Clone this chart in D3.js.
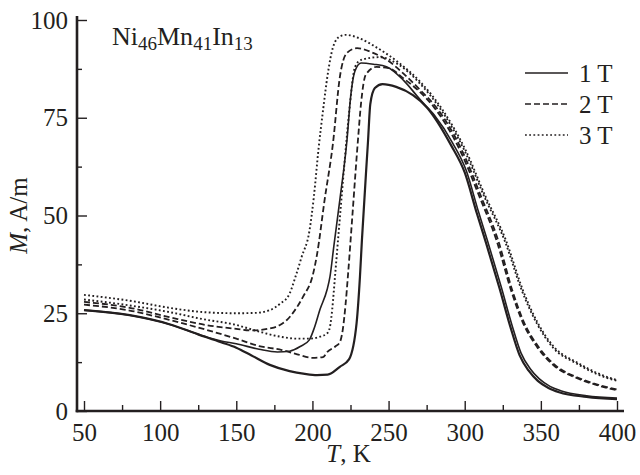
<!DOCTYPE html>
<html>
<head>
<meta charset="utf-8">
<script src="https://cdn.jsdelivr.net/npm/d3@7"></script>
<style>
  html, body { margin: 0; padding: 0; background: #fff; }
  svg { display: block; }
  text { font-family: "Liberation Serif", "Times New Roman", serif; fill: #231f20; }
</style>
</head>
<body>
<svg id="chart" width="640" height="475"></svg>
<script>
// temperature (K) and magnetization (A/m)
const tempTicks = [50, 100, 150, 200, 250, 300, 350, 400];
const tempMinor = [75, 125, 175, 225, 275, 325, 375];
const magTicks = [0, 25, 50, 75, 100];
const magMinor = [12.5, 37.5, 62.5, 87.5];

const fields = ["1 T", "2 T", "3 T"];

// 1 T, branch with the later (higher T) jump
const t1a = [50, 80, 106, 125, 140, 150, 160, 172, 185, 195, 203, 210, 218, 224, 229, 231.2, 232.5, 236.5, 238, 241, 246, 255, 266, 275, 291, 300, 308, 314, 323, 330, 336, 342, 348, 355, 362, 380, 400];
const m1a = [25.8, 24.5, 22.2, 19.6, 17.6, 16.2, 14.2, 11.8, 10.2, 9.5, 9.2, 9.3, 11.3, 13.2, 22.5, 34.3, 43.7, 69, 78.5, 82.6, 83.6, 82.9, 80.8, 77.7, 68, 61, 50.5, 43, 31.2, 21.5, 14.3, 10.3, 7.7, 5.9, 4.8, 3.6, 3.0];
// 1 T, branch with the earlier jump
const t1b = [50, 80, 106, 125, 140, 150, 165, 177, 185, 192, 198, 201, 205, 209.6, 211.5, 214, 218, 222.7, 225, 228, 232, 240, 249, 260, 271, 280, 292, 301, 309, 315, 324, 331, 337, 343, 349, 356, 363, 380, 400];
const m1b = [25.8, 24.5, 22.2, 19.6, 17.9, 17.2, 15.8, 15.1, 15.3, 16.5, 18.2, 21, 26, 31, 34.3, 42, 54, 69.3, 80, 87, 89, 88.7, 88, 84.5, 79.5, 75.7, 68.6, 61.5, 51, 43.5, 31.7, 22, 14.8, 10.8, 8.2, 6.3, 5.2, 3.9, 3.3];

// 2 T
const t2a = [50, 80, 106, 130, 150, 165, 180, 190, 200, 207, 210, 215, 218, 220, 221.7, 223.4, 226, 229.9, 232, 235, 242, 250, 260, 270, 280, 297, 310, 321, 330.4, 338.3, 347.5, 358, 373.7, 387, 400];
const m2a = [27.2, 25.7, 23.3, 20.8, 18.5, 16.6, 15.6, 14.5, 13.6, 13.8, 15.2, 16.5, 17.6, 21, 27, 35, 48.7, 69.3, 79, 86, 88, 87.7, 85, 81.8, 77.6, 66.6, 54.5, 43.5, 30.9, 22.5, 16.4, 11.8, 8.4, 6.6, 5.3];
const t2b = [50, 80, 106, 130, 150, 160, 173, 178.7, 183.3, 188, 193.8, 200.4, 203, 208, 213.5, 218, 222.7, 229.3, 239.8, 250, 260, 271, 281, 298, 311, 322, 331.2, 339, 348.3, 358.8, 374.5, 387.8, 400];
const m2b = [27.9, 26.4, 24, 22, 21, 20.6, 21.2, 22, 23.3, 25.5, 29.2, 35, 40, 54, 68.5, 85.4, 91.6, 92.8, 91.6, 89.5, 86.2, 82, 77.8, 66.8, 54.6, 43.6, 30.9, 22.6, 16.5, 11.9, 8.5, 6.7, 5.5];

// 3 T
const t3a = [50, 80, 106, 128, 150, 165, 179, 190, 198, 205, 209.6, 211.5, 213, 214.8, 216.8, 219, 221.4, 224, 228, 232, 244, 257, 270, 285, 300, 313, 326.4, 337.6, 347.5, 358, 373.7, 387, 400];
const m3a = [28.5, 27, 25.3, 23.5, 22, 20.3, 19, 18.5, 18.5, 19, 19.8, 21.5, 26, 34.3, 43.7, 54, 65, 76, 88, 89.8, 90.5, 88.5, 84, 76.7, 66.5, 54.7, 43.4, 30.7, 22.3, 16.2, 12.1, 9.4, 7.7];
const t3b = [50, 80, 106, 128, 150, 163, 172, 179, 185, 189, 193, 198, 201, 204, 207, 210, 213.5, 218, 222, 231, 242, 257, 270.5, 285.5, 300.5, 313.5, 327, 338.2, 348, 358.6, 374.3, 387.6, 400];
const m3b = [29.7, 28.2, 26.4, 25.3, 25, 25.1, 25.8, 27.5, 30, 34.5, 39.5, 46, 55, 67, 77, 86, 93, 95.8, 96.2, 95.3, 93, 89, 84.3, 77, 66.8, 55, 43.7, 30.9, 22.5, 16.4, 12.3, 9.6, 7.9];

const ink = "#231f20";
const dashes = { "1 T": null, "2 T": "6,3", "3 T": "1.8,2.4" };

const curves = [
  { field: "1 T", t: t1a, m: m1a, w: 2.2 },
  { field: "1 T", t: t1b, m: m1b, w: 1.6 },
  { field: "2 T", t: t2a, m: m2a, w: 1.8 },
  { field: "2 T", t: t2b, m: m2b, w: 1.8 },
  { field: "3 T", t: t3a, m: m3a, w: 1.9 },
  { field: "3 T", t: t3b, m: m3b, w: 1.9 },
];

const svg = d3.select("#chart");
const x = d3.scaleLinear().domain([50, 400]).range([84, 617]);
const y = d3.scaleLinear().domain([0, 100]).range([411, 20]);

const line = d3
  .line()
  .x((d) => x(d[0]))
  .y((d) => y(d[1]))
  .curve(d3.curveMonotoneX);

svg
  .append("g")
  .attr("fill", "none")
  .selectAll("path")
  .data(curves)
  .join("path")
  .attr("stroke", ink)
  .attr("stroke-width", (d) => d.w)
  .attr("stroke-dasharray", (d) => dashes[d.field])
  .attr("d", (d) => line(d.t.map((t, i) => [t, d.m[i]])));

// axes, ticks pointing inward
const fontSize = 25;
const axisX = svg.append("g").attr("transform", `translate(0,${y(0)})`);
axisX.call(d3.axisBottom(x).tickValues(tempTicks).tickSize(-10).tickPadding(13));
axisX.append("g").call(d3.axisBottom(x).tickValues(tempMinor).tickSize(-6).tickFormat(""));

const axisY = svg.append("g").attr("transform", `translate(${x.range()[0] - 7},0)`);
axisY.call(d3.axisLeft(y).tickValues(magTicks).tickSize(-10).tickPadding(9));
axisY.append("g").call(d3.axisLeft(y).tickValues(magMinor).tickSize(-5).tickFormat(""));

svg.selectAll(".domain").remove();
svg.selectAll(".tick line").attr("stroke", ink).attr("stroke-width", 1.4);
svg
  .selectAll(".tick text")
  .attr("fill", ink)
  .style("font-family", '"Liberation Serif", serif')
  .style("font-size", fontSize + "px");
axisX.selectAll(".tick text").attr("dy", "0.68em");

// axis lines
svg
  .append("line")
  .attr("x1", x.range()[0] - 7)
  .attr("x2", x.range()[0] - 7)
  .attr("y1", y(100) - 4)
  .attr("y2", y(0) + 1.2)
  .attr("stroke", ink)
  .attr("stroke-width", 2.6);
svg
  .append("line")
  .attr("x1", x.range()[0] - 8.3)
  .attr("x2", x.range()[1] + 7)
  .attr("y1", y(0))
  .attr("y2", y(0))
  .attr("stroke", ink)
  .attr("stroke-width", 2.6);

// axis titles
svg
  .append("text")
  .attr("x", (x.range()[0] + x.range()[1]) / 2 - 2)
  .attr("y", 462)
  .attr("text-anchor", "middle")
  .style("font-size", fontSize + "px")
  .call((t) => t.append("tspan").attr("font-style", "italic").text("T"))
  .call((t) => t.append("tspan").text(", K"));

svg
  .append("text")
  .attr("transform", `translate(27,${(y(0) + y(100)) / 2}) rotate(-90)`)
  .attr("text-anchor", "middle")
  .style("font-size", fontSize + "px")
  .call((t) => t.append("tspan").attr("font-style", "italic").text("M"))
  .call((t) => t.append("tspan").text(", A/m"));

// compound name
const title = svg
  .append("text")
  .attr("x", 112)
  .attr("y", 45)
  .style("font-size", "26px");
[
  ["Ni", false],
  ["46", true],
  ["Mn", false],
  ["41", true],
  ["In", false],
  ["13", true],
].forEach(([s, sub]) => {
  title
    .append("tspan")
    .attr("baseline-shift", sub ? "-28%" : null)
    .style("font-size", sub ? "19px" : null)
    .text(s);
});

// legend
const legend = svg
  .append("g")
  .selectAll("g")
  .data(fields)
  .join("g")
  .attr("transform", (d, i) => `translate(525,${73 + i * 31})`);
legend
  .append("line")
  .attr("x2", 43)
  .attr("stroke", ink)
  .attr("stroke-width", 1.7)
  .attr("stroke-dasharray", (d) => dashes[d]);
legend
  .append("text")
  .attr("x", 54)
  .attr("dy", "0.35em")
  .style("font-size", fontSize + "px")
  .text((d) => d);
</script>
</body>
</html>
